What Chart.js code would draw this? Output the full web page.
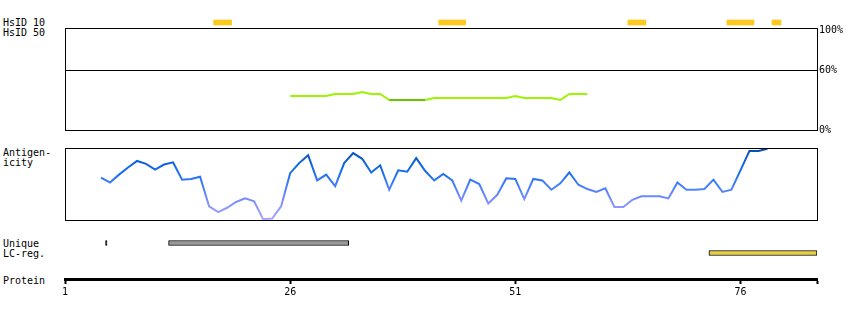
<!DOCTYPE html>
<html>
<head>
<meta charset="utf-8">
<script src="https://cdn.jsdelivr.net/npm/chart.js@4.4.1/dist/chart.umd.min.js"></script>
<style>
  body { margin: 0; background: #fff; }
  #wrap { position: relative; width: 850px; height: 320px; overflow: hidden;
          font-family: "DejaVu Sans Mono", monospace; font-size: 10px; color: #000; }
  .lbl { position: absolute; left: 3px; line-height: 10px; white-space: pre; }
  canvas { position: absolute; }
</style>
</head>
<body>
<div id="wrap">
  <div class="lbl" style="top:18px">HsID 10</div>
  <div class="lbl" style="top:28px">HsID 50</div>
  <div class="lbl" style="top:148px">Antigen-
icity</div>
  <div class="lbl" style="top:239px">Unique
LC-reg.</div>
  <div class="lbl" style="top:276px">Protein</div>

  <canvas id="hsid10" width="752" height="9" style="left:65px;top:18px"></canvas>
  <canvas id="hsid50" width="785" height="120" style="left:65px;top:20px"></canvas>
  <canvas id="antigen" width="753" height="90" style="left:65px;top:140px"></canvas>
  <canvas id="regions" width="752" height="20" style="left:65px;top:238px"></canvas>
  <canvas id="protein" width="792" height="40" style="left:45px;top:260px"></canvas>
</div>
<script>
// protein length and axis ticks
const proteinLength = 84;
const proteinTicks = [1, 26, 51, 76];

// HsID 10 hits (residue ranges)
const hsid10Regions = [[18, 19], [43, 45], [64, 65], [75, 77], [80, 80]];

// HsID 50 identity (%), residues 26..59
const hsid50Start = 26;
const hsid50Values = [34, 34, 34, 34, 34, 36, 36, 36, 38, 36, 36, 30, 30, 30, 30, 30,
  32, 32, 32, 32, 32, 32, 32, 32, 32, 34, 32, 32, 32, 32, 30, 36, 36, 36];
const pctTicks = [0, 60, 100];

// antigenicity score (0-100), residues 5..79
const antigenStart = 5;
const antigenValues = [59, 52, 63, 73, 82, 78, 70, 77, 80, 56, 57, 60, 19, 11, 17, 25,
  30, 26, 1, 2, 19, 65, 79, 90, 55, 63, 47, 79, 93, 85, 66, 76, 42, 69, 67, 86, 68,
  55, 64, 55, 27, 56, 50, 23, 35, 58, 57, 29, 57, 55, 42, 51, 66, 49, 43, 39, 44,
  18, 18, 28, 33, 33, 33, 30, 52, 42, 42, 43, 56, 39, 42, 69, 96, 96, 99];

// unique and low-complexity regions
const uniqueRegions = [[6, 5], [13, 32]];
const lcRegions = [[73, 84]];

Chart.defaults.font.family = '"DejaVu Sans Mono", monospace';
Chart.defaults.font.size = 10;
Chart.defaults.color = '#000';
Chart.defaults.animation = false;
Chart.defaults.plugins.legend.display = false;
Chart.defaults.plugins.tooltip.enabled = false;

const xMax = proteinLength + 0.5;
const xScale = { type: 'linear', min: 1, max: xMax, display: false };

const frame = {
  id: 'frame',
  afterDraw(chart) {
    const a = chart.chartArea, c = chart.ctx;
    c.save();
    c.strokeStyle = '#000';
    c.lineWidth = 1;
    c.strokeRect(Math.round(a.left) + 0.5, Math.round(a.top) + 0.5,
      Math.round(a.right - a.left), Math.round(a.bottom - a.top));
    c.restore();
  }
};

function toPoints(start, values) {
  return values.map((v, i) => ({ x: start + i, y: v }));
}
function toBars(label, list) {
  return list.map(r => ({ y: label, x: [r[0] - 0.5, r[1] + 0.5] }));
}

new Chart(document.getElementById('hsid10'), {
  type: 'bar',
  data: {
    labels: ['HsID 10'],
    datasets: [{
      data: toBars('HsID 10', hsid10Regions),
      backgroundColor: '#fec91e',
      barThickness: 5,
      borderWidth: 0
    }]
  },
  options: {
    responsive: false, devicePixelRatio: 1, indexAxis: 'y',
    scales: { x: xScale, y: { type: 'category', display: false } }
  }
});

new Chart(document.getElementById('hsid50'), {
  type: 'line',
  data: {
    datasets: [{
      data: toPoints(hsid50Start, hsid50Values),
      borderWidth: 2,
      pointRadius: 0,
      borderColor: '#9cf500',
      segment: {
        borderColor: ctx => (ctx.p0.parsed.y <= 30 && ctx.p1.parsed.y <= 30) ? '#66c400' : '#9cf500'
      }
    }]
  },
  options: {
    responsive: false, devicePixelRatio: 1,
    layout: { padding: { top: 8, bottom: 10 } },
    scales: {
      x: xScale,
      y: {
        // the frame sits 2px above the 100% mark
        position: 'right', min: 0, max: 102,
        afterBuildTicks: s => { s.ticks = pctTicks.map(v => ({ value: v })); },
        afterFit: s => { s.width = 33; },
        ticks: { callback: v => v + '%', padding: 2 },
        grid: { color: c => c.tick && c.tick.value === 60 ? '#000' : 'rgba(0,0,0,0)',
                drawTicks: false, lineWidth: 1 },
        border: { display: true, color: '#000' }
      }
    }
  },
  plugins: [frame]
});

new Chart(document.getElementById('antigen'), {
  type: 'line',
  data: {
    datasets: [{
      data: toPoints(antigenStart, antigenValues),
      borderWidth: 2,
      pointRadius: 0,
      borderColor: ctx => {
        const a = ctx.chart.chartArea;
        if (!a) return '#1a6ff0';
        const g = ctx.chart.ctx.createLinearGradient(0, a.top, 0, a.bottom);
        g.addColorStop(0, '#004ea8');
        g.addColorStop(0.15, '#0a5cd0');
        g.addColorStop(0.35, '#1a6ff0');
        g.addColorStop(0.55, '#4a80ff');
        g.addColorStop(0.75, '#8090ff');
        g.addColorStop(1, '#aaa6ff');
        return g;
      }
    }]
  },
  options: {
    responsive: false, devicePixelRatio: 1,
    layout: { padding: { top: 8, bottom: 10, right: 1 } },
    scales: { x: xScale, y: { min: 0, max: 100, display: false } }
  },
  plugins: [frame]
});

new Chart(document.getElementById('regions'), {
  type: 'bar',
  data: {
    labels: ['Unique', 'LC-reg.'],
    datasets: [
      { data: toBars('Unique', uniqueRegions),
        backgroundColor: ctx => {
          const r = uniqueRegions[ctx.dataIndex];
          return r && r[1] < r[0] ? '#000' : '#999999';
        } },
      { data: toBars('LC-reg.', lcRegions), backgroundColor: '#e8d03c' }
    ]
  },
  options: {
    responsive: false, devicePixelRatio: 1, indexAxis: 'y',
    datasets: {
      bar: { grouped: false, barThickness: 5, borderWidth: 1, borderColor: '#000',
             borderSkipped: false, minBarLength: 1.5 }
    },
    scales: { x: xScale, y: { type: 'category', display: false } }
  }
});

new Chart(document.getElementById('protein'), {
  type: 'line',
  data: { datasets: [{ data: [] }] },
  options: {
    responsive: false, devicePixelRatio: 1,
    layout: { padding: { left: 20, right: 20 } },
    scales: {
      x: {
        type: 'linear', position: 'bottom', min: 1, max: xMax,
        afterBuildTicks: s => { s.ticks = proteinTicks.concat([xMax]).map(v => ({ value: v })); },
        afterFit: s => { s.height = 21; },
        ticks: { autoSkip: false, maxRotation: 0, padding: 2,
                 callback: v => proteinTicks.includes(v) ? String(v) : '' },
        grid: { drawOnChartArea: false, drawTicks: true, tickLength: 5, tickWidth: 2, tickColor: '#000' },
        border: { display: true, color: '#000', width: 3 }
      },
      y: { display: false }
    }
  }
});
</script>
</body>
</html>
